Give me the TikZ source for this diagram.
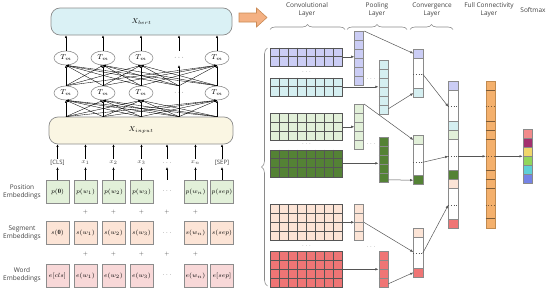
\documentclass[tikz,border=0pt]{standalone}
\usepackage{fontspec}
\setsansfont{Open Sans}
\usetikzlibrary{arrows.meta,decorations.pathreplacing,shapes.geometric}
\definecolor{bertc}{HTML}{DAF1F5}
\definecolor{inpc}{HTML}{FAF6E3}
\definecolor{posc}{HTML}{E2F0D9}
\definecolor{segc}{HTML}{FCE4D6}
\definecolor{wrdc}{HTML}{F8D8D8}
\definecolor{purc}{HTML}{CBCDF5}
\definecolor{cyac}{HTML}{D5EFF1}
\definecolor{lgrc}{HTML}{E2F0D9}
\definecolor{dgrc}{HTML}{548235}
\definecolor{pchc}{HTML}{FCE4D6}
\definecolor{redc}{HTML}{EF7575}
\definecolor{orgc}{HTML}{F4B06C}
\definecolor{orgd}{HTML}{7A5A36}
\definecolor{orgb}{HTML}{C08A50}
\definecolor{smA}{HTML}{F28B8B}
\definecolor{smB}{HTML}{A3306F}
\definecolor{smC}{HTML}{F0D66A}
\definecolor{smD}{HTML}{92D65A}
\definecolor{smE}{HTML}{5FD0D6}
\definecolor{smF}{HTML}{7583E6}
\definecolor{embb}{HTML}{8C8C8C}
\definecolor{txtc}{HTML}{404040}
\definecolor{gridc}{HTML}{555555}
\definecolor{colb}{HTML}{8A8A8A}
\definecolor{arrc}{HTML}{555555}
\definecolor{dotc}{HTML}{777777}
\definecolor{brcc}{HTML}{8A8A8A}
\definecolor{bigarr}{HTML}{F4B183}
\definecolor{bigarrb}{HTML}{C98A55}

\newcommand\mkgrid[4]{% name, top y, rows, colour
  \node[gridbox, fill=#4, minimum height=#3*9pt, anchor=north west] (#1) at (270,#2) {};
  \foreach \c in {1,...,7} \draw[gridline] (270+\c*9,#2) -- ++(0,#3*9);
  \pgfmathtruncatemacro\rr{#3-1}
  \foreach \r in {1,...,\rr} \draw[gridline] (270,#2+\r*9) -- ++(72,0);
}
\newcommand\mkcol[5]{% name, x, y, n, colour
  \node[colbox, fill=#5, minimum width=9pt, minimum height=#4*9pt, anchor=north west] (#1) at (#2,#3) {};
  \pgfmathtruncatemacro\nn{#4-1}
  \foreach \r in {1,...,\nn} \draw[draw=colb, line width=0.6pt] (#2,#3+\r*9) -- ++(9,0);
}
\newcommand\mkcell[4]{% name, x, y, colour
  \node[cellbox, fill=#4, anchor=north west] (#1) at (#2,#3) {};
}

\begin{document}
\begin{tikzpicture}[x=1pt,y=-1pt,
 lbl/.style={font=\sffamily\fontsize{6.5}{8}\selectfont, align=center, text=txtc, inner sep=0pt},
 emb/.style={draw=embb, line width=0.7pt, minimum width=23pt, minimum height=23pt, inner sep=0pt, font=\fontsize{6.5}{7}\selectfont},
 posb/.style={emb, fill=posc},
 segb/.style={emb, fill=segc},
 wrdb/.style={emb, fill=wrdc},
 edots/.style={minimum width=23pt, minimum height=23pt, inner sep=0pt, text=txtc, font=\fontsize{6.5}{7}\selectfont},
 tnode/.style={ellipse, draw=embb, fill=white, line width=0.6pt, minimum width=24pt, minimum height=14pt, inner sep=0pt, font=\fontsize{7}{8}\selectfont},
 tdots/.style={ellipse, minimum width=24pt, minimum height=14pt, inner sep=0pt, text=txtc, font=\fontsize{7}{8}\selectfont},
 bigbox/.style={draw=embb, line width=0.7pt, rounded corners=9pt, minimum height=27pt, inner sep=0pt, font=\fontsize{7.5}{8}\selectfont},
 tarr/.style={-{Latex[length=2.6pt,width=2.2pt]}, line width=0.35pt, draw=black},
 rarr/.style={-{Latex[length=3.2pt,width=2.6pt]}, line width=0.5pt, draw=arrc},
 tok/.style={font=\fontsize{6}{7}\selectfont, inner sep=1pt, minimum height=8pt, text=txtc},
 plus/.style={font=\fontsize{5.5}{6}\selectfont, text=txtc, inner sep=0pt},
 gridbox/.style={draw=gridc, line width=0.6pt, minimum width=72pt, inner sep=0pt},
 gridline/.style={draw=gridc, line width=0.5pt},
 colbox/.style={draw=colb, line width=0.8pt, minimum width=9.4pt, inner sep=0pt, fill=white},
 cellbox/.style={draw=colb, line width=0.8pt, minimum width=9.4pt, minimum height=9pt, inner sep=0pt},
 dotl/.style={draw=gridc, line width=0.6pt, dotted},
 dots/.style={text=dotc, font=\fontsize{6}{6}\selectfont, inner sep=0pt},
 brc/.style={decorate, decoration={brace, amplitude=5pt}, draw=brcc, line width=0.6pt},
]
\useasboundingbox (0,0) rectangle (550,292);

%% ---------------- left: BERT ----------------
\node[bigbox, fill=bertc, minimum width=181pt] (xbert) at (141.5,21.5) {$X_{bert}$};
\node[bigbox, fill=inpc, minimum width=184pt] (xin) at (141,130.5) {$X_{input}$};

\node[tnode] (t1) at (66,58) {$T_m$};
\node[tnode] (t2) at (103,58) {$T_m$};
\node[tnode] (t3) at (141,58) {$T_m$};
\node[tdots] (t4) at (179,58) {$\cdots$};
\node[tnode] (t5) at (217,58) {$T_m$};
\node[tnode] (b1) at (66,93) {$T_m$};
\node[tnode] (b2) at (103,93) {$T_m$};
\node[tnode] (b3) at (141,93) {$T_m$};
\node[tdots] (b4) at (179,93) {$\cdots$};
\node[tnode] (b5) at (217,93) {$T_m$};

\foreach \i in {1,...,5}{
  \foreach \j in {1,2,3,5}{
    \draw[tarr] (b\i.north) -- (t\j.south);
    \draw[tarr] (xin.north -| b\i) -- (b\j.south);
  }
}
\draw[tarr] (xin.north -| b4) -- (t4.south);
\foreach \j in {1,...,5} \draw[tarr] (t\j.north) -- (xbert.south -| t\j);

%% tokens
\node[tok] (k1) at (57.5,163) {\sffamily [CLS]};
\node[tok] (k2) at (85.5,163) {$x_1$};
\node[tok] (k3) at (113.5,163) {$x_2$};
\node[tok] (k4) at (141.5,163) {$x_3$};
\node[tok] (k5) at (167,163) {$\cdots$};
\node[tok] (k6) at (195.5,163) {$x_n$};
\node[tok] (k7) at (222,163) {\sffamily [SEP]};

%% embeddings
\node[posb] (p1) at (57.5,191.5) {$p(\mathbf{0})$};
\node[posb] (p2) at (85.5,191.5) {$p(w_1)$};
\node[posb] (p3) at (113.5,191.5) {$p(w_2)$};
\node[posb] (p4) at (141.5,191.5) {$p(w_3)$};
\node[edots] (p5) at (167,191.5) {$\cdots$};
\node[posb] (p6) at (195.5,191.5) {$p(w_n)$};
\node[posb] (p7) at (222,191.5) {$p(sep)$};

\node[segb] (s1) at (57.5,233) {$s(\mathbf{0})$};
\node[segb] (s2) at (85.5,233) {$s(w_1)$};
\node[segb] (s3) at (113.5,233) {$s(w_2)$};
\node[segb] (s4) at (141.5,233) {$s(w_3)$};
\node[edots] (s5) at (167,233) {$\cdots$};
\node[segb] (s6) at (195.5,233) {$s(w_n)$};
\node[segb] (s7) at (222,233) {$s(sep)$};

\node[wrdb] (w1) at (57.5,275.5) {$e[cls]$};
\node[wrdb] (w2) at (85.5,275.5) {$e(w_1)$};
\node[wrdb] (w3) at (113.5,275.5) {$e(w_2)$};
\node[wrdb] (w4) at (141.5,275.5) {$e(w_3)$};
\node[edots] (w5) at (167,275.5) {$\cdots$};
\node[wrdb] (w6) at (195.5,275.5) {$e(w_n)$};
\node[wrdb] (w7) at (222,275.5) {$e[sep]$};

\foreach \i in {1,...,7}{
  \draw[tarr] (p\i.north) -- (k\i.south);
  \draw[tarr] (k\i.north) -- (xin.south -| k\i);
}
\foreach \x/\n in {85.5/a,113.5/b,141.5/c,167/d,195.5/e}{
  \node[plus] (pa\n) at (\x,212) {+};
  \node[plus] (pb\n) at (\x,254) {+};
}

\node[lbl] (lpos) at (22,192) {Position\\Embeddings};
\node[lbl] (lseg) at (22,233) {Segment\\Embeddings};
\node[lbl] (lwrd) at (22,275) {Word\\Embeddings};

%% big arrow
\filldraw[fill=bigarr, draw=bigarrb, line width=0.6pt]
  (239,13) -- (256.5,13) -- (256.5,8) -- (267,17.5) -- (256.5,27) -- (256.5,22) -- (239,22) -- cycle;

%% ---------------- right: CNN ----------------
\node[lbl] (hconv) at (307,10) {Convolutional\\Layer};
\node[lbl] (hpool) at (377,10) {Pooling\\Layer};
\node[lbl] (hconc) at (432,10) {Convergence\\Layer};
\node[lbl] (hfull) at (489,10) {Full Connectivity\\Layer};
\node[lbl] (hsoft) at (533,10.5) {Softmax};

\draw[brc] (270,29.5) -- (345,29.5);
\draw[brc] (347,29.5) -- (407,29.5);
\draw[brc] (410,29.5) -- (453,29.5);
\draw[brc, decoration={brace, amplitude=6pt}] (267.5,286) -- (267.5,48);

%% conv grids
\mkgrid{g1}{47.5}{2}{purc}
\mkgrid{g2}{77.5}{2}{cyac}
\mkgrid{g3}{113}{3}{lgrc}
\mkgrid{g4}{149.5}{3}{dgrc}
\mkgrid{g5}{204}{4}{pchc}
\mkgrid{g6}{251}{4}{redc}
\node[dots] (gd1) at (306.5,72) {$\cdots$};
\node[dots] (gd2) at (306.5,144.5) {$\cdots$};
\node[dots] (gd3) at (306.5,246) {$\cdots$};

%% pooling columns
\mkcol{q1}{354.3}{31}{6}{purc}
\mkcol{q2}{378.5}{60}{6}{cyac}
\mkcol{q3}{354.3}{104}{5}{lgrc}
\mkcol{q4}{378.5}{137}{5}{dgrc}
\mkcol{q5}{354.3}{204}{4}{pchc}
\mkcol{q6}{378.5}{251}{4}{redc}
\node[dots] (qd1) at (371,79) {$\cdots$};
\node[dots] (qd2) at (371,144) {$\cdots$};
\node[dots] (qd3) at (371,247) {$\cdots$};

\draw[rarr] (g1.east) -- (g1.east -| q1.west);
\draw[rarr] (g2.east) -- (g2.east -| q2.west);
\draw[rarr] (g3.east) -- (g3.east -| q3.west);
\draw[rarr] (g4.east) -- (g4.east -| q4.west);
\draw[rarr] (g5.east) -- (g5.east -| q5.west);
\draw[rarr] (g6.east) -- (g6.east -| q6.west);

%% convergence columns
\node[colbox, minimum height=48.8pt, anchor=north west] (c1) at (413.3,48.5) {};
\mkcell{c1a}{413.3}{48.5}{purc}
\mkcell{c1b}{413.3}{88.3}{cyac}
\draw[dotl] (413.3,74) -- (422.7,74);
\coordinate (c1d) at (422.7,74);

\node[colbox, minimum height=49.3pt, anchor=north west] (c2) at (413.3,135) {};
\mkcell{c2a}{413.3}{135}{lgrc}
\mkcell{c2b}{413.3}{175.3}{dgrc}
\draw[dotl] (413.3,162.3) -- (422.7,162.3);
\coordinate (c2d) at (422.7,162.3);

\node[colbox, minimum height=49pt, anchor=north west] (c3) at (413.3,227.7) {};
\mkcell{c3a}{413.3}{227.7}{pchc}
\mkcell{c3b}{413.3}{267.7}{redc}
\draw[dotl] (413.3,253.3) -- (422.7,253.3);
\coordinate (c3d) at (422.7,253.3);
\coordinate (c3w) at (413.3,252);

\draw[rarr] (q1.north east) -- (c1a.west);
\draw[rarr] ([yshift=6pt]q2.south east) -- (c1b.west);
\draw[rarr] (q3.north east) -- (c2a.west);
\draw[rarr] ([yshift=3pt]q4.south east) -- (c2b.west);
\draw[rarr] (q5.east) -- (c3w);
\draw[rarr] ([yshift=4pt]q6.south east) -- (c3b.west);

%% concatenated column
\node[colbox, minimum height=147pt, anchor=north west] (f) at (448.3,80.7) {};
\mkcell{fa}{448.3}{80.7}{purc}
\mkcell{fb}{448.3}{121}{cyac}
\mkcell{fc}{448.3}{130}{lgrc}
\mkcell{fd}{448.3}{170}{dgrc}
\mkcell{fe}{448.3}{179}{pchc}
\mkcell{ff}{448.3}{218.7}{redc}
\draw[dotl] (448.3,106.7) -- (457.7,106.7);
\draw[dotl] (448.3,156.3) -- (457.7,156.3);
\draw[dotl] (448.3,205) -- (457.7,205);
\coordinate (fw1) at (448.3,106.7);
\coordinate (fw2) at (448.3,156.3);
\coordinate (fw3) at (448.3,205);
\coordinate (fe2) at (457.7,156.3);

\draw[rarr] (c1d) -- (fw1);
\draw[rarr] (c2d) -- (fw2);
\draw[rarr] (c3d) -- (fw3);

%% full connectivity column
\node[draw=orgb, fill=orgc, line width=0.8pt, minimum width=9.4pt, minimum height=147pt, inner sep=0pt, anchor=north west] (o) at (485.7,80.7) {};
\foreach \yy in {90,121,130,139.3,170,179,188.3,218.7}
  \draw[draw=orgd, line width=0.6pt] (485.7,\yy) -- ++(9.4,0);
\foreach \yy in {106.7,156.3,205}
  \draw[draw=orgd, line width=0.6pt, dotted] (485.7,\yy) -- ++(9.4,0);
\coordinate (ow2) at (485.7,156.3);
\coordinate (oe2) at (495.1,156.3);

%% softmax
\mkcell{sa}{522.7}{129.3}{smA}
\mkcell{sb}{522.7}{138.2}{smB}
\mkcell{sc}{522.7}{147.1}{smC}
\mkcell{sd}{522.7}{156}{smD}
\mkcell{se}{522.7}{164.9}{smE}
\mkcell{sf}{522.7}{173.8}{smF}
\coordinate (sw) at (522.7,156.3);

\draw[rarr] (fe2) -- (ow2);
\draw[rarr] (oe2) -- (sw);
\end{tikzpicture}
\end{document}
